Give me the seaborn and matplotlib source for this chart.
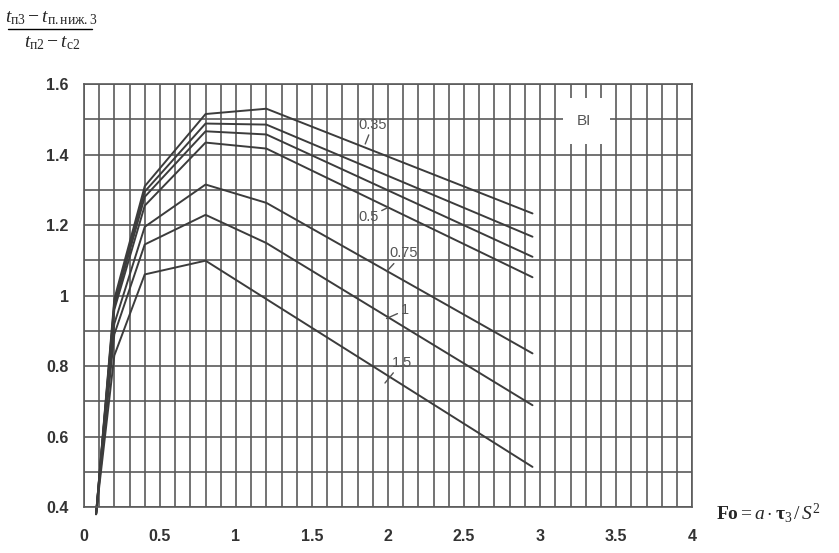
import numpy as np
import pandas as pd
import seaborn as sns
import matplotlib.pyplot as plt
from matplotlib.patches import Rectangle
from matplotlib.lines import Line2D

sns.set_style('white')
plt.rcParams['font.family'] = ['Liberation Sans', 'DejaVu Sans']
plt.rcParams['mathtext.fontset'] = 'custom'
plt.rcParams['mathtext.rm'] = 'Liberation Serif'
plt.rcParams['mathtext.it'] = 'Liberation Serif:italic'
plt.rcParams['mathtext.bf'] = 'Liberation Serif:bold'


# Data
fo = [0.08, 0.2, 0.4, 0.8, 1.2, 2.95]
curve_035 = [0.38, 0.99, 1.310, 1.515, 1.530, 1.233]
curve_b = [0.38, 0.98, 1.295, 1.488, 1.485, 1.167]
curve_c = [0.38, 0.97, 1.280, 1.466, 1.457, 1.110]
curve_05 = [0.38, 0.96, 1.255, 1.434, 1.417, 1.052]
curve_075 = [0.38, 0.92, 1.195, 1.315, 1.263, 0.836]
curve_1 = [0.38, 0.89, 1.145, 1.229, 1.149, 0.689]
curve_15 = [0.38, 0.83, 1.060, 1.099, 0.990, 0.514]

curves = {'0.35': curve_035, 'b': curve_b, 'c': curve_c, '0.5': curve_05,
          '0.75': curve_075, '1': curve_1, '1.5': curve_15}

# curve labels: text position and point on the curve
label_names = ['0.35', '0.5', '0.75', '1', '1.5']
label_text_x = [1.90, 1.87, 2.10, 2.11, 2.09]
label_text_y = [1.485, 1.222, 1.120, 0.958, 0.810]
label_to_x = [1.85, 2.00, 1.99, 1.99, 1.98]
label_to_y = [1.430, 1.250, 1.068, 0.935, 0.752]

xticks = [0, 0.5, 1, 1.5, 2, 2.5, 3, 3.5, 4]
xticklabels = ['0', '0.5', '1', '1.5', '2', '2.5', '3', '3.5', '4']
yticks = [0.4, 0.6, 0.8, 1.0, 1.2, 1.4, 1.6]
yticklabels = ['0.4', '0.6', '0.8', '1', '1.2', '1.4', '1.6']

df = pd.DataFrame([(name, x, y) for name, ys in curves.items() for x, y in zip(fo, ys)],
                  columns=['curve', 'Fo', 'ratio'])


# Figure
fig = plt.figure(figsize=(8.39, 5.53), dpi=100)
ax = fig.add_axes([0.1, 0.083, 0.725, 0.765])

ax.set_axisbelow(True)
ax.set_xticks(np.arange(0, 4.01, 0.1), minor=True)
ax.set_yticks(np.arange(0.4, 1.61, 0.1), minor=True)
ax.grid(True, which='both', color='#5a5a5a', linewidth=1.2)

ax.add_patch(Rectangle((3.15, 1.43), 0.31, 0.13, facecolor='white',
                       edgecolor='none', zorder=1.5))
ax.text(3.29, 1.495, 'BI', fontsize=11, color='#555555', ha='center',
        va='center', zorder=3)

sns.lineplot(data=df, x='Fo', y='ratio', units='curve', estimator=None,
             sort=False, color='#3c3c3c', linewidth=1.4, ax=ax, clip_on=False)

for name, tx, ty, px, py in zip(label_names, label_text_x, label_text_y,
                                label_to_x, label_to_y):
    ax.annotate(name, xy=(px, py), xytext=(tx, ty), fontsize=10.5,
                color='#555555', ha='center', va='center',
                arrowprops=dict(arrowstyle='-', color='#555555', lw=1.0,
                                shrinkA=0, shrinkB=0))

ax.set_xlim(0, 4)
ax.set_ylim(0.4, 1.6)
ax.set_xticks(xticks)
ax.set_xticklabels(xticklabels)
ax.set_yticks(yticks)
ax.set_yticklabels(yticklabels)
ax.tick_params(which='major', axis='x', direction='out', length=7, width=1.2,
               color='#555555', pad=9, labelsize=11.5, labelcolor='#333333')
ax.tick_params(which='major', axis='y', direction='inout', length=12, width=1.2,
               color='#555555', pad=5, labelsize=11.5, labelcolor='#333333')
ax.tick_params(which='minor', length=0)
for lab in ax.get_xticklabels() + ax.get_yticklabels():
    lab.set_fontweight('bold')
for sp in ax.spines.values():
    sp.set_color('#5a5a5a')
    sp.set_linewidth(1.2)
ax.set_xlabel('')
ax.set_ylabel('')

# y-axis quantity written as a fraction in the top-left corner
fig.text(0.061, 0.968, r'$t_{\mathrm{п3}} - t_{\mathrm{п.ниж.3}}$',
         fontsize=14, va='center', ha='center')
fig.add_artist(Line2D([0.010, 0.110], [0.947, 0.947], color='black', lw=1.0,
                      transform=fig.transFigure))
fig.text(0.062, 0.922, r'$t_{\mathrm{п2}} - t_{\mathrm{с2}}$',
         fontsize=14, va='center', ha='center')
fig.text(0.853, 0.072, r'$\mathbf{Fo} = a \cdot \mathbf{\tau}_3\,/\,S^2$',
         fontsize=14, va='center', ha='left')

plt.savefig('out.png', dpi=100)
